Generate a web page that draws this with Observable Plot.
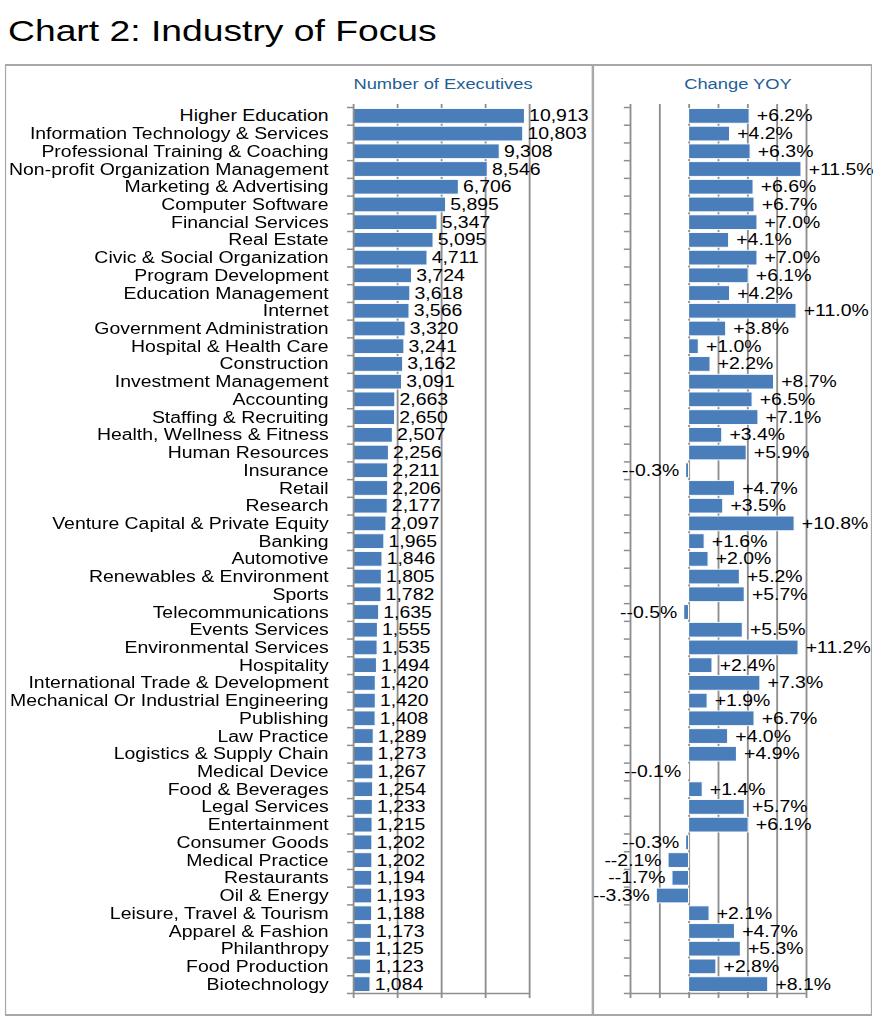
<!DOCTYPE html>
<html>
<head>
<meta charset="utf-8">
<script src="https://cdn.jsdelivr.net/npm/d3@7"></script>
<script src="https://cdn.jsdelivr.net/npm/@observablehq/plot@0.6"></script>
<style>
  html, body { margin: 0; padding: 0; background: #fff; overflow: hidden; }
  body { width: 884px; height: 1024px; font-family: "Liberation Sans", Arial, Helvetica, sans-serif; }
  /* The reference picture is horizontally stretched; draw in narrower logical units and stretch */
  #wrap { position: relative; width: 718.7px; height: 1024px; transform: scaleX(1.23); transform-origin: 0 0; background: #fff; }
  #title { position: absolute; left: 6.5px; top: 16px; font-size: 30.3px; line-height: 30.3px; color: #000; white-space: nowrap; }
  #left { position: absolute; left: 0px; top: 63px; }
  #right { position: absolute; left: 482.1px; top: 63px; }
  #box { position: absolute; left: 4.07px; top: 64px; width: 704.9px; height: 952px; box-sizing: border-box;
         border-top: 2px solid #a8a8a8; border-bottom: 2px solid #a8a8a8; border-left: 1.6px solid #a8a8a8; border-right: 1.6px solid #a8a8a8;
         z-index: 5; pointer-events: none; }
  #divider { position: absolute; left: 481.3px; top: 64px; width: 1.6px; height: 952px; background: #a8a8a8; z-index: 5; }
  .ptitle { position: absolute; top: 76.9px; font-size: 14.9px; line-height: 14.9px; color: #1f5f96; white-space: nowrap; transform: translateX(-50%); }
</style>
</head>
<body>
<div id="wrap">
  <div id="title">Chart 2: Industry of Focus</div>
  <div id="left"></div>
  <div id="right"></div>
  <div id="box"></div>
  <div id="divider"></div>
  <div class="ptitle" style="left:360.2px">Number of Executives</div>
  <div class="ptitle" style="left:600px">Change YOY</div>
</div>
<script>
const industries = [
  "Higher Education", "Information Technology & Services", "Professional Training & Coaching",
  "Non-profit Organization Management", "Marketing & Advertising", "Computer Software",
  "Financial Services", "Real Estate", "Civic & Social Organization", "Program Development",
  "Education Management", "Internet", "Government Administration", "Hospital & Health Care",
  "Construction", "Investment Management", "Accounting", "Staffing & Recruiting",
  "Health, Wellness & Fitness", "Human Resources", "Insurance", "Retail", "Research",
  "Venture Capital & Private Equity", "Banking", "Automotive", "Renewables & Environment",
  "Sports", "Telecommunications", "Events Services", "Environmental Services", "Hospitality",
  "International Trade & Development", "Mechanical Or Industrial Engineering", "Publishing",
  "Law Practice", "Logistics & Supply Chain", "Medical Device", "Food & Beverages",
  "Legal Services", "Entertainment", "Consumer Goods", "Medical Practice", "Restaurants",
  "Oil & Energy", "Leisure, Travel & Tourism", "Apparel & Fashion", "Philanthropy",
  "Food Production", "Biotechnology"
];
const executives = [
  10913, 10803, 9308, 8546, 6706, 5895, 5347, 5095, 4711, 3724,
  3618, 3566, 3320, 3241, 3162, 3091, 2663, 2650, 2507, 2256,
  2211, 2206, 2177, 2097, 1965, 1846, 1805, 1782, 1635, 1555,
  1535, 1494, 1420, 1420, 1408, 1289, 1273, 1267, 1254, 1233,
  1215, 1202, 1202, 1194, 1193, 1188, 1173, 1125, 1123, 1084
];
const changeYOY = [
  6.2, 4.2, 6.3, 11.5, 6.6, 6.7, 7.0, 4.1, 7.0, 6.1,
  4.2, 11.0, 3.8, 1.0, 2.2, 8.7, 6.5, 7.1, 3.4, 5.9,
  -0.3, 4.7, 3.5, 10.8, 1.6, 2.0, 5.2, 5.7, -0.5, 5.5,
  11.2, 2.4, 7.3, 1.9, 6.7, 4.0, 4.9, -0.1, 1.4, 5.7,
  6.1, -0.3, -2.1, -1.7, -3.3, 2.1, 4.7, 5.3, 2.8, 8.1
];
const countTicks = [0, 2800, 5600, 8400, 11200];
const changeTicks = [-6, -3, 0, 3, 6, 9, 12];

const rows = industries.map((name, i) => ({name, count: executives[i], change: changeYOY[i]}));

const BLUE = "#4a7ebb";
const GRID = "#8e8e8e";
const FS = 15.8;
const H = 954, MT = 44, MB = 24;
const step = (H - MT - MB) / industries.length;
const yScale = {domain: industries, paddingInner: 0.17, paddingOuter: 0.085, label: null};
const fmtCount = d3.format(",");
const fmtChange = v => (v >= 0 ? "+" : "-") + v.toFixed(1) + "%";
const last = [industries[industries.length - 1]];
const style = {fontFamily: "'Liberation Sans', Arial, Helvetica, sans-serif", fontSize: FS + "px", background: "transparent", color: "black", overflow: "visible"};

const left = Plot.plot({
  width: 482.1, height: H,
  marginLeft: 287.0, marginRight: 52.0, marginTop: MT, marginBottom: MB,
  style,
  x: {domain: [countTicks[0], countTicks[countTicks.length - 1]], label: null},
  y: yScale,
  marks: [
    Plot.ruleX(countTicks.slice(1), {stroke: GRID, strokeWidth: 1.5, insetTop: -3}),
    Plot.barX(rows, {x1: 0, x2: "count", y: "name", fill: BLUE, stroke: "white", strokeWidth: 0.9}),
    Plot.ruleX([0], {stroke: GRID, strokeWidth: 1.5, insetTop: -3}),
    Plot.ruleY(last, {y: d => d, x1: countTicks[0], x2: countTicks[countTicks.length - 1], dy: step / 2, stroke: GRID, strokeWidth: 1.5}),
    Plot.axisY({tickSize: 0, tickPadding: 20.3, fontSize: FS, fill: "black", label: null}),
    Plot.axisY({tickSize: 4.9, dy: -step / 2, tickFormat: () => "", stroke: GRID, strokeWidth: 1.5, label: null}),
    Plot.axisY(last, {tickSize: 4.9, dy: step / 2, tickFormat: () => "", stroke: GRID, strokeWidth: 1.5, label: null}),
    Plot.axisX({anchor: "bottom", ticks: countTicks, tickSize: 5, tickFormat: () => "", stroke: GRID, strokeWidth: 1.5, label: null}),
    Plot.text(rows, {x: "count", y: "name", text: d => fmtCount(d.count), textAnchor: "start", dx: 3.25, fontSize: FS, fill: "black"})
  ]
});
document.getElementById("left").appendChild(left);

const right = Plot.plot({
  width: 236.6, height: H,
  marginLeft: 30.1, marginRight: 63.4, marginTop: MT, marginBottom: MB,
  style,
  x: {domain: [changeTicks[0], changeTicks[changeTicks.length - 1]], label: null},
  y: yScale,
  marks: [
    Plot.ruleX(changeTicks.slice(1), {stroke: GRID, strokeWidth: 1.5, insetTop: -3}),
    Plot.barX(rows, {x1: 0, x2: "change", y: "name", fill: BLUE, stroke: "white", strokeWidth: 0.9}),
    Plot.ruleX([changeTicks[0]], {stroke: GRID, strokeWidth: 1.5, insetTop: -3}),
    Plot.ruleY(last, {y: d => d, x1: changeTicks[0], x2: changeTicks[changeTicks.length - 1], dy: step / 2, stroke: GRID, strokeWidth: 1.5}),
    Plot.axisY({tickSize: 4.9, dy: -step / 2, tickFormat: () => "", stroke: GRID, strokeWidth: 1.5, label: null}),
    Plot.axisY(last, {tickSize: 4.9, dy: step / 2, tickFormat: () => "", stroke: GRID, strokeWidth: 1.5, label: null}),
    Plot.axisX({anchor: "bottom", ticks: changeTicks, tickSize: 5, tickFormat: () => "", stroke: GRID, strokeWidth: 1.5, label: null}),
    Plot.text(rows.filter(d => d.change >= 0), {x: "change", y: "name", text: d => fmtChange(d.change), textAnchor: "start", dx: 5.7, fontSize: FS, fill: "black"}),
    Plot.text(rows.filter(d => d.change < 0), {x: "change", y: "name", text: d => fmtChange(d.change), textAnchor: "end", dx: -5.7, fontSize: FS, fill: "black"})
  ]
});
document.getElementById("right").appendChild(right);
</script>
</body>
</html>
